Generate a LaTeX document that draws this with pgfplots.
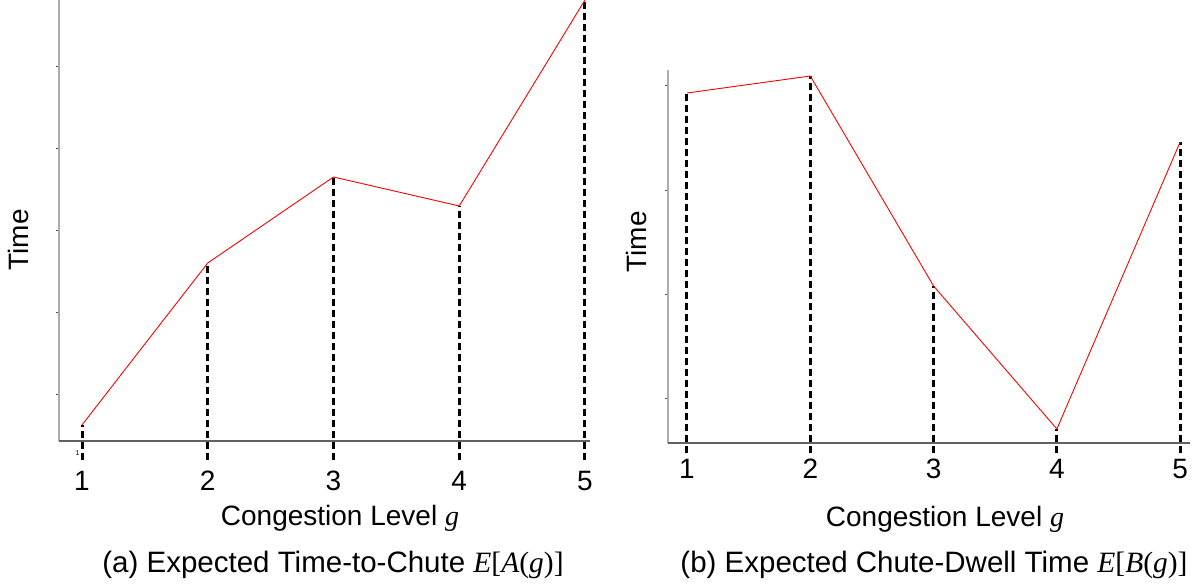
\documentclass[border=0pt]{standalone}
\usepackage{pgfplots}
\pgfplotsset{compat=1.18}
\usepackage{fontspec}
\setmainfont{Liberation Sans}
\newfontfamily\serif{Liberation Serif}
\newcommand{\fs}{\fontsize{28}{32}\selectfont}
\newcommand{\fc}{\fontsize{29.5}{34}\selectfont}
\begin{document}
\begin{tikzpicture}
\useasboundingbox (0,0) rectangle (1198pt,588pt);
\pgfplotsset{
 panel/.style={scale only axis, clip=false,
   axis x line=bottom, axis y line=left, axis line style={draw=none},
   xtick={1,2,3,4,5}, xtick style={draw=none},
   ytick style={draw=black!70, line width=0.6pt}, tick align=outside, major tick length=3pt,
   yticklabels={},
   /pgf/number format/assume math mode=true,
   xticklabel style={font=\fs, anchor=center},
 },
 dsh/.style={black, line width=3pt, dash pattern=on 7pt off 4pt},
 rl/.style={red, line width=0.9pt},
 xl/.style={color=black!62, line width=2.6pt},
 yl/.style={color=black!32, line width=2.4pt},
}
% (a)
\begin{axis}[panel, at={(59pt,147pt)}, anchor=south west,
  width=531pt, height=441pt, xmin=0.817, xmax=5.04, ymin=0, ymax=441,
  ytick={47,129,211,293,375}, xticklabel style={yshift=-37pt}]
\addplot[yl] coordinates {(0.817,0) (0.817,441)};
\addplot[xl] coordinates {(0.817,0) (5.04,0)};
\addplot[dsh] coordinates {(1,-19) (1,16)};
\addplot[dsh] coordinates {(2,-19) (2,178)};
\addplot[dsh] coordinates {(3,-19) (3,264)};
\addplot[dsh] coordinates {(4,-19) (4,235)};
\addplot[dsh] coordinates {(5,-19) (5,441)};
\addplot[rl] coordinates {(1,16) (2,178) (3,264) (4,235) (5,441)};
\node[font=\fontsize{7}{8}\selectfont] at (axis cs:0.965,-12) {1};
\end{axis}
% (b)
\begin{axis}[panel, at={(668pt,145pt)}, anchor=south west,
  width=522pt, height=373pt, xmin=0.846, xmax=5.08, ymin=0, ymax=373,
  ytick={45,149,253,358}, xticklabel style={yshift=-23pt}]
\addplot[yl] coordinates {(0.846,0) (0.846,373)};
\addplot[xl] coordinates {(0.846,0) (5.08,0)};
\addplot[dsh] coordinates {(1,-10) (1,350)};
\addplot[dsh] coordinates {(2,-10) (2,367)};
\addplot[dsh] coordinates {(3,-10) (3,157)};
\addplot[dsh] coordinates {(4,-10) (4,14)};
\addplot[dsh] coordinates {(5,-10) (5,301)};
\addplot[rl] coordinates {(1,350) (2,367) (3,157) (4,14) (5,301)};
\end{axis}
\node[font=\fs] at (340pt,70pt) {Congestion Level {\serif\itshape g}};
\node[font=\fs] at (945pt,69pt) {Congestion Level {\serif\itshape g}};
\node[font=\fc] at (333pt,23pt) {(a) Expected Time-to-Chute {\serif\textit{E}[\textit{A}(\textit{g})]}};
\node[font=\fc] at (934pt,23pt) {(b) Expected Chute-Dwell Time {\serif\textit{E}[\textit{B}(\textit{g})]}};
\node[font=\fs, rotate=90] at (18pt,348pt) {Time};
\node[font=\fs, rotate=90] at (636pt,346pt) {Time};
\end{tikzpicture}
\end{document}
